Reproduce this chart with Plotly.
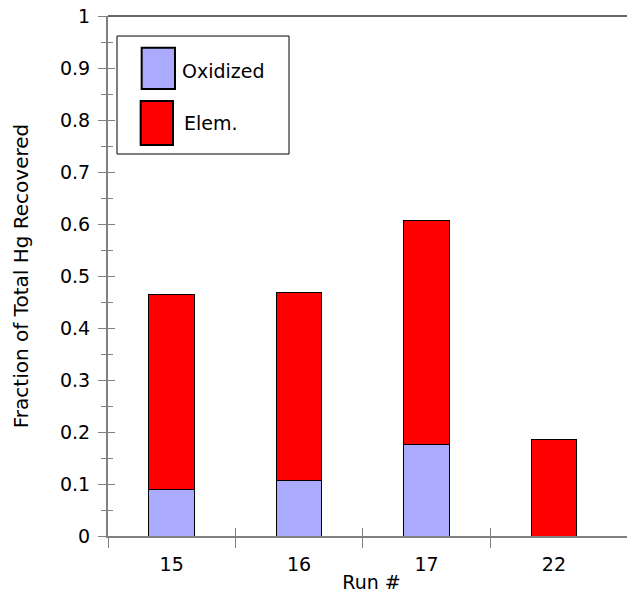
import plotly.graph_objects as go

runs = ["15", "16", "17", "22"]
oxidized = [0.090, 0.106, 0.176, 0.0]
elemental = [0.3735, 0.363, 0.4305, 0.1854]
series_names = ["Oxidized", "Elem."]
colors = ["#AAAAFF", "#FF0000"]

xpos = list(range(len(runs)))
fam = "DejaVu Sans, Verdana, sans-serif"
tickfont = dict(family=fam, size=19, color="black")
titlefont = dict(family=fam, size=20, color="black")
legfont = dict(family=fam, size=19, color="black")

fig = go.Figure()
for name, vals, col in zip(series_names, [oxidized, elemental], colors):
    fig.add_trace(go.Bar(x=xpos, y=vals, name=name, marker=dict(color=col, line=dict(color="black", width=1)),
                         width=0.358, showlegend=False))

# page body has an 8px margin: figure is sized / offset to land on the 635x600 window
fig.update_layout(
    barmode="stack",
    width=627, height=592,
    margin=dict(l=100, r=0, t=8, b=64, autoexpand=False),
    plot_bgcolor="rgba(0,0,0,0)", paper_bgcolor="white",
    font=tickfont,
    xaxis=dict(range=[-0.5, 3.636], tickvals=xpos, ticktext=runs, ticks="", showgrid=False, zeroline=False,
               showline=True, linecolor="#808080", linewidth=2, automargin=False, ticklabelstandoff=10,
               ticklabeloverflow="allow",
               minor=dict(tickvals=[-0.5, 0.5, 1.5, 2.5], ticks="outside", ticklen=10, tickcolor="#808080", tickwidth=1),
               title=dict(text="Run #", standoff=2, font=dict(family=fam, size=19, color="black")), tickfont=tickfont),
    yaxis=dict(range=[0, 1], dtick=0.1, tickformat="~g", ticks="outside", ticklen=8, tickcolor="#808080", tickwidth=1,
               showgrid=False, zeroline=False, showline=True, linecolor="#808080", linewidth=2, automargin=False,
               ticklabelstandoff=4, ticklabeloverflow="allow",
               minor=dict(dtick=0.05, ticks="outside", ticklen=5, tickcolor="#808080", tickwidth=1),
               title=dict(text="Fraction of Total Hg Recovered", standoff=26, font=titlefont), tickfont=tickfont),
    # second, coincident subplot used only for the inner half of the crossing tick marks
    xaxis2=dict(domain=[0, 1], anchor="y2", side="bottom", range=[-0.5, 3.636], tickmode="array",
                tickvals=[-0.5, 0.5, 1.5, 2.5], ticks="inside", ticklen=8, tickcolor="#808080", tickwidth=1,
                showticklabels=False, showgrid=False, zeroline=False, showline=False, automargin=False),
    yaxis2=dict(domain=[0, 1], anchor="x2", side="left", range=[0, 1], dtick=0.1, ticks="inside", ticklen=7,
                tickcolor="#808080", tickwidth=1, showticklabels=False, showgrid=False, zeroline=False,
                showline=False, automargin=False,
                minor=dict(dtick=0.05, ticks="inside", ticklen=5, tickcolor="#808080", tickwidth=1)),
)
fig.add_trace(go.Scatter(x=[0], y=[0], xaxis="x2", yaxis="y2", mode="markers", marker=dict(opacity=0),
                         showlegend=False, hoverinfo="skip"))

# top border line
fig.add_shape(type="line", xref="paper", yref="paper", x0=0, x1=1, y0=1, y1=1, line=dict(color="#333333", width=1.5))

# legend box
fig.add_shape(type="rect", xref="paper", yref="paper", x0=0.0171, x1=0.3435, y0=0.7346, y1=0.9615,
              line=dict(color="black", width=1), fillcolor="white")
fig.add_shape(type="rect", xref="paper", yref="paper", x0=0.0639, x1=0.1271, y0=0.8596, y1=0.939,
              line=dict(color="black", width=2), fillcolor=colors[0])
fig.add_shape(type="rect", xref="paper", yref="paper", x0=0.0620, x1=0.1233, y0=0.7519, y1=0.8365,
              line=dict(color="black", width=2), fillcolor=colors[1])
fig.add_annotation(xref="paper", yref="paper", x=0.1404, y=0.894, text=series_names[0], showarrow=False,
                   xanchor="left", yanchor="middle", font=legfont, xshift=-2)
fig.add_annotation(xref="paper", yref="paper", x=0.1442, y=0.794, text=series_names[1], showarrow=False,
                   xanchor="left", yanchor="middle", font=legfont, xshift=-2)

fig.write_html("out.html")
